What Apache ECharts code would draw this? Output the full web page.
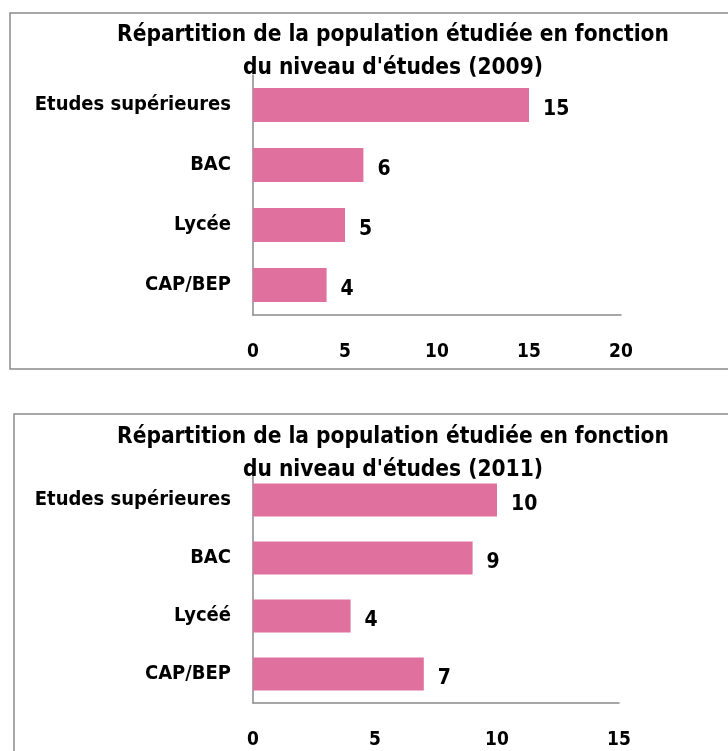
<!DOCTYPE html>
<html>
<head>
<meta charset="utf-8">
<script src="https://cdn.jsdelivr.net/npm/echarts@6/dist/echarts.min.js"></script>
<style>
  html, body { margin: 0; padding: 0; background: #fff; }
  #chart { width: 728px; height: 751px; }
</style>
</head>
<body>
<div id="chart"></div>
<script>
// Education level of the surveyed population, two survey years
const categories2009 = ['CAP/BEP', 'Lycée', 'BAC', 'Etudes supérieures'];
const values2009 = [4, 5, 6, 15];
const ticks2009 = [0, 5, 10, 15, 20];

const categories2011 = ['CAP/BEP', 'Lycéé', 'BAC', 'Etudes supérieures'];
const values2011 = [7, 4, 9, 10];
const ticks2011 = [0, 5, 10, 15];

const title2009 = "Répartition de la population étudiée en fonction\ndu niveau d'études (2009)";
const title2011 = "Répartition de la population étudiée en fonction\ndu niveau d'études (2011)";

const FONT = '"Liberation Sans Narrow", "DejaVu Sans Condensed", "Open Sans", sans-serif';
const BAR = '#E0719F';
const LINE = '#8A8A8A';

function yAxisFor(gridIndex, cats) {
  return {
    type: 'category', gridIndex, data: cats,
    axisLine: { show: true, lineStyle: { color: LINE, width: 1.5 } },
    axisTick: { show: false },
    axisLabel: { margin: 22, color: '#000', fontFamily: FONT, fontWeight: 'bold', fontSize: 20 }
  };
}
function xAxisFor(gridIndex, ticks) {
  return {
    type: 'value', gridIndex,
    min: ticks[0], max: ticks[ticks.length - 1], interval: ticks[1] - ticks[0],
    axisLine: { show: true, lineStyle: { color: LINE, width: 1.5 } },
    axisTick: { show: false },
    splitLine: { show: false },
    axisLabel: { margin: 28, color: '#000', fontFamily: FONT, fontWeight: 'bold', fontSize: 19 }
  };
}
function seriesFor(idx, values, width) {
  return {
    type: 'bar', xAxisIndex: idx, yAxisIndex: idx, data: values,
    barWidth: width,
    itemStyle: { color: BAR },
    label: {
      show: true, position: 'right', distance: 14, offset: [0, 5],
      color: '#000', fontFamily: FONT, fontWeight: 'bold', fontSize: 21
    }
  };
}
const titleStyle = { color: '#000', fontFamily: FONT, fontWeight: 'bold', fontSize: 22.5, lineHeight: 33 };

const chart = echarts.init(document.getElementById('chart'), null, { renderer: 'canvas' });
chart.setOption({
  animation: false,
  backgroundColor: '#fff',
  title: [
    { text: title2009, left: 393, top: 19, textAlign: 'center', padding: 0, textStyle: titleStyle },
    { text: title2011, left: 393, top: 421, textAlign: 'center', padding: 0, textStyle: titleStyle }
  ],
  graphic: [
    { type: 'rect', shape: { x: 10, y: 13, width: 800, height: 356 }, style: { fill: null, stroke: LINE, lineWidth: 1.5 }, z: -1 },
    { type: 'rect', shape: { x: 14, y: 414, width: 800, height: 400 }, style: { fill: null, stroke: LINE, lineWidth: 1.5 }, z: -1 }
  ],
  grid: [
    { left: 253, top: 75, width: 368, height: 240 },
    { left: 253, top: 471, width: 366, height: 232 }
  ],
  xAxis: [xAxisFor(0, ticks2009), xAxisFor(1, ticks2011)],
  yAxis: [yAxisFor(0, categories2009), yAxisFor(1, categories2011)],
  series: [seriesFor(0, values2009, 34), seriesFor(1, values2011, 33)]
});
</script>
</body>
</html>
